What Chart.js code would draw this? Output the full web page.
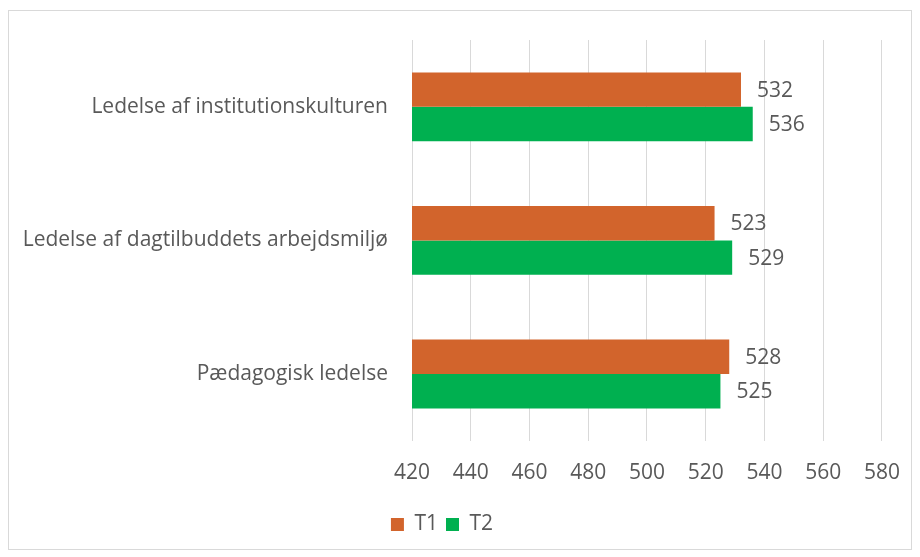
<!DOCTYPE html>
<html>
<head>
<meta charset="utf-8">
<script src="https://cdn.jsdelivr.net/npm/chart.js@4"></script>
<style>
  html, body { margin: 0; padding: 0; background: #fff; }
  .wrap { position: relative; width: 920px; height: 557px; }
  .frame { position: absolute; left: 8px; top: 10px; width: 902px; height: 538px; border: 1px solid #d9d9d9; }
  canvas { position: absolute; left: 0; top: 0; }
</style>
</head>
<body>
<div class="wrap">
  <div class="frame"></div>
  <canvas id="chart" width="920" height="557"></canvas>
</div>
<script>
const categories = [
  'Ledelse af institutionskulturen',
  'Ledelse af dagtilbuddets arbejdsmiljø',
  'Pædagogisk ledelse',
];
const seriesNames = ['T1', 'T2'];
const t1Values = [532, 523, 528];
const t2Values = [536, 529, 525];
const seriesColors = ['#D2642C', '#00B050'];

const textColor = '#595959';
const fontFamily = '"Open Sans", sans-serif';

// write the value just right of each bar end
const valueLabels = {
  id: 'valueLabels',
  afterDatasetsDraw(chart) {
    const ctx = chart.ctx;
    ctx.save();
    ctx.font = '21px ' + fontFamily;
    ctx.fillStyle = textColor;
    ctx.textBaseline = 'middle';
    ctx.textAlign = 'left';
    chart.data.datasets.forEach((ds, i) => {
      chart.getDatasetMeta(i).data.forEach((bar, j) => {
        ctx.fillText(String(ds.data[j]), bar.x + 16, bar.y + 1);
      });
    });
    ctx.restore();
  },
};

new Chart(document.getElementById('chart'), {
  type: 'bar',
  data: {
    labels: categories,
    datasets: [
      { label: seriesNames[0], data: t1Values, backgroundColor: seriesColors[0] },
      { label: seriesNames[1], data: t2Values, backgroundColor: seriesColors[1] },
    ],
  },
  options: {
    indexAxis: 'y',
    responsive: false,
    animation: false,
    categoryPercentage: 0.515,
    barPercentage: 1,
    layout: { padding: { top: 40, right: 36, bottom: 12, left: 0 } },
    scales: {
      x: {
        min: 420,
        max: 580,
        ticks: { stepSize: 20, color: textColor, font: { size: 21, family: fontFamily }, padding: 20 },
        grid: { color: '#d9d9d9', lineWidth: 1, drawTicks: false },
        border: { display: false },
      },
      y: {
        ticks: { color: textColor, font: { size: 21, family: fontFamily }, padding: 16 },
        grid: { display: false },
        border: { display: false },
        afterFit(scale) { scale.width = 412; },
      },
    },
    plugins: {
      legend: {
        position: 'bottom',
        labels: {
          boxWidth: 13,
          boxHeight: 13,
          color: textColor,
          font: { size: 21, family: fontFamily },
          padding: 8,
        },
      },
      tooltip: { enabled: false },
    },
  },
  plugins: [valueLabels],
});
</script>
</body>
</html>
